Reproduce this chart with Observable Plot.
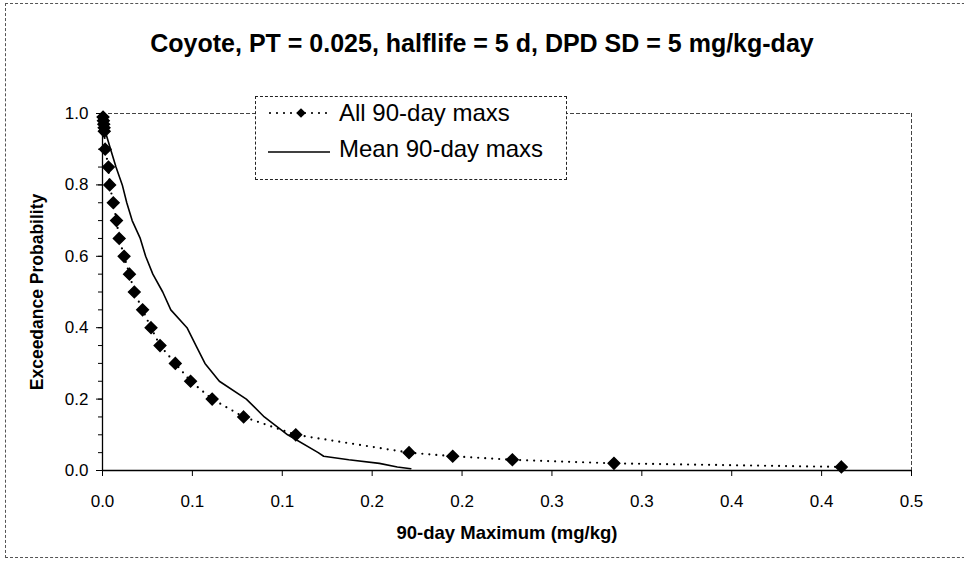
<!DOCTYPE html>
<html>
<head>
<meta charset="utf-8">
<script src="https://cdn.jsdelivr.net/npm/d3@7"></script>
<script src="https://cdn.jsdelivr.net/npm/@observablehq/plot@0.6"></script>
<style>
  body { margin: 0; background: #fff; }
  #chart { position: relative; width: 964px; height: 567px; overflow: hidden; font-family: Arial, "Liberation Sans", sans-serif; color: #000; }
  #border { position: absolute; left: 5px; top: 3px; width: 1000px; height: 555px; border: 1px dashed #555; box-sizing: border-box; pointer-events: none; }
  #title { height: 80px; line-height: 86px; text-align: center; font-weight: bold; font-size: 25px; }
  #legend { position: absolute; left: 255px; top: 96px; width: 312px; height: 84px; border: 1px dashed #222; background: #fff; box-sizing: border-box; }
  #legend .row { position: absolute; left: 0; height: 34px; display: flex; align-items: center; font-size: 24px; white-space: nowrap; }
  #legend svg { margin-left: 12px; margin-right: 9px; }
</style>
</head>
<body>
<div id="chart">
  <div id="border"></div>
  <div id="title">Coyote, PT = 0.025, halflife = 5 d, DPD SD = 5 mg/kg-day</div>
  <div id="plot"></div>
  <div id="legend"></div>
</div>
<script>
// Exceedance probability and 90-day maximum (mg/kg), all simulated maxima
const allProb = [0.99, 0.98, 0.97, 0.96, 0.95, 0.90, 0.85, 0.80, 0.75, 0.70, 0.65, 0.60, 0.55, 0.50,
                 0.45, 0.40, 0.35, 0.30, 0.25, 0.20, 0.15, 0.10, 0.05, 0.04, 0.03, 0.02, 0.01];
const allMax  = [0.0003, 0.0005, 0.0007, 0.0009, 0.0010, 0.0015, 0.0033, 0.0040, 0.0060, 0.0078, 0.0093, 0.0120, 0.0150, 0.0177,
                 0.0223, 0.0270, 0.0320, 0.0405, 0.0490, 0.0610, 0.0785, 0.1075, 0.1705, 0.1948, 0.2280, 0.2845, 0.4110];

// Mean of the 90-day maxima
const meanProb = [0.99, 0.95, 0.90, 0.85, 0.80, 0.75, 0.70, 0.65, 0.60, 0.55, 0.50, 0.45,
                  0.40, 0.35, 0.30, 0.25, 0.20, 0.15, 0.10, 0.05, 0.04, 0.03, 0.02, 0.01, 0.005];
const meanMax  = [0.0005, 0.0015, 0.0045, 0.0075, 0.0110, 0.0135, 0.0165, 0.0210, 0.0240, 0.0280, 0.0335, 0.0380,
                  0.0470, 0.0520, 0.0570, 0.0650, 0.0800, 0.0900, 0.1030, 0.1200, 0.1230, 0.1370, 0.1540, 0.1640, 0.1715];

// Axis ticks
const xTicks = [0, 0.05, 0.10, 0.15, 0.20, 0.25, 0.30, 0.35, 0.40, 0.45];
const xTickLabels = ["0.0", "0.1", "0.1", "0.2", "0.2", "0.3", "0.3", "0.4", "0.4", "0.5"];
const yTicks = [0, 0.2, 0.4, 0.6, 0.8, 1.0];
const yMinorTicks = d3.range(0, 21).map(i => i * 0.05);

const seriesNames = ["All 90-day maxs", "Mean 90-day maxs"];

const allData = allProb.map((p, i) => ({p, v: allMax[i]}));
const meanData = meanProb.map((p, i) => ({p, v: meanMax[i]}));

const chart = Plot.plot({
  width: 964,
  height: 487,
  marginTop: 33,
  marginBottom: 97,
  marginLeft: 102,
  marginRight: 53,
  style: {fontFamily: "Arial, 'Liberation Sans', sans-serif", color: "#000", background: "#fff"},
  x: {domain: [0, 0.45]},
  y: {domain: [0, 1]},
  marks: [
    // plot-area border (top and right)
    Plot.ruleY([1], {stroke: "#444", strokeDasharray: "4 2", strokeWidth: 1}),
    Plot.ruleX([0.45], {stroke: "#444", strokeDasharray: "4 2", strokeWidth: 1}),
    // axes
    Plot.axisY({ticks: yMinorTicks, tickSize: 4, tickFormat: () => "", label: null}),
    Plot.axisY({ticks: yTicks, tickSize: 6, tickPadding: 8, tickFormat: d3.format(".1f"), fontSize: 17, label: null}),
    Plot.axisX({ticks: xTicks, tickSize: 6, tickPadding: 18, tickFormat: (d, i) => xTickLabels[i], fontSize: 17, label: null}),
    Plot.ruleX([0], {stroke: "#000", strokeWidth: 1.3}),
    Plot.ruleY([0], {stroke: "#000", strokeWidth: 1.3}),
    Plot.text(["90-day Maximum (mg/kg)"], {frameAnchor: "bottom", textAnchor: "middle", lineAnchor: "middle", dy: 63, fontSize: 18.5, fontWeight: "bold"}),
    Plot.text(["Exceedance Probability"], {frameAnchor: "left", textAnchor: "middle", lineAnchor: "middle", dx: -65, rotate: -90, fontSize: 17.5, fontWeight: "bold"}),
    // mean of maxima: solid line
    Plot.line(meanData, {x: "v", y: "p", stroke: "#000", strokeWidth: 1.6}),
    // all maxima: dotted line with diamonds
    Plot.line(allData, {x: "v", y: "p", stroke: "#000", strokeWidth: 2.2, strokeDasharray: "0 7", strokeLinecap: "round"}),
    Plot.dot(allData, {x: "v", y: "p", symbol: "diamond2", r: 5.2, fill: "#000", stroke: "#000"})
  ]
});
document.getElementById("plot").appendChild(chart);

// legend
const legend = document.getElementById("legend");
seriesNames.forEach((name, i) => {
  const row = document.createElement("div");
  row.className = "row";
  row.style.top = (-1 + i * 36) + "px";
  const sw = d3.create("svg").attr("width", 62).attr("height", 20);
  if (i === 0) {
    sw.append("line").attr("x1", 2).attr("x2", 60).attr("y1", 10).attr("y2", 10)
      .attr("stroke", "#000").attr("stroke-width", 2.2).attr("stroke-dasharray", "0 7").attr("stroke-linecap", "round");
    sw.append("path").attr("d", d3.symbol(d3.symbolDiamond2, 60)()).attr("transform", "translate(33,10)").attr("fill", "#000");
  } else {
    sw.append("line").attr("x1", 0).attr("x2", 62).attr("y1", 13).attr("y2", 13)
      .attr("stroke", "#000").attr("stroke-width", 1.6);
  }
  row.appendChild(sw.node());
  const label = document.createElement("span");
  label.textContent = name;
  row.appendChild(label);
  legend.appendChild(row);
});
</script>
</body>
</html>
